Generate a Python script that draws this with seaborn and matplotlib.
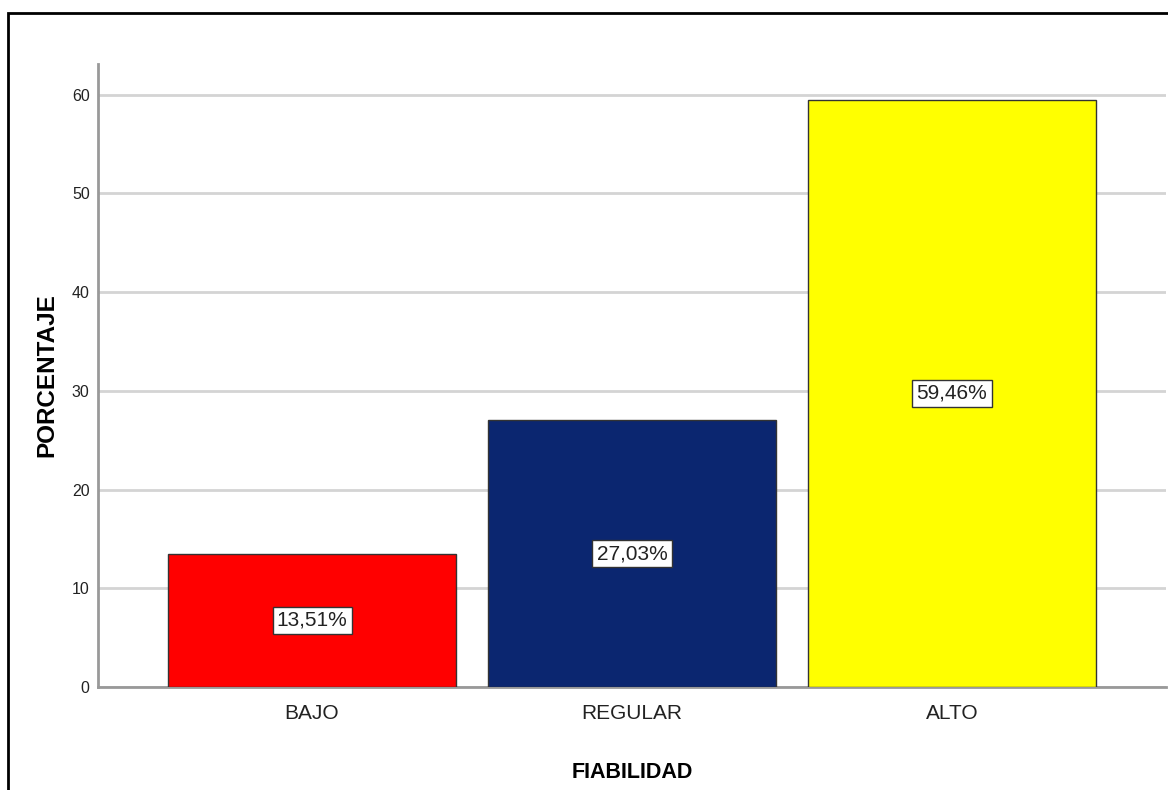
import pandas as pd
import matplotlib
matplotlib.use("Agg")
import matplotlib.pyplot as plt
import seaborn as sns
from matplotlib.patches import Rectangle

categorias = ["BAJO", "REGULAR", "ALTO"]
porcentajes = [13.51, 27.03, 59.46]
etiquetas = ["13,51%", "27,03%", "59,46%"]
colores = ["#FF0000", "#0B2670", "#FFFF00"]

df = pd.DataFrame({"nivel": categorias, "pct": porcentajes})

sns.set_style("white")
plt.rcParams['font.family'] = ['Liberation Sans', 'DejaVu Sans']

fig = plt.figure(figsize=(11.68, 7.9), dpi=100)
ax = fig.add_axes([0.0839, 0.1304, 0.9144, 0.7886])

sns.barplot(data=df, x="nivel", y="pct", hue="nivel", palette=colores,
            saturation=1, width=0.9, edgecolor="#333333", linewidth=1,
            legend=False, ax=ax, zorder=3)

for cont, lab in zip(ax.containers, etiquetas):
    ax.bar_label(cont, labels=[lab], label_type="center", fontsize=15,
                 color="#222222",
                 bbox=dict(boxstyle="square,pad=0.2", fc="white",
                           ec="#333333", lw=1))

ax.set_xlim(-0.669, 2.669)
ax.set_ylim(0, 63.1)
ax.set_yticks([0, 10, 20, 30, 40, 50, 60])
ax.yaxis.grid(True, color="#d4d4d4", linewidth=2, zorder=0)
ax.set_axisbelow(True)

for s in ["top", "right"]:
    ax.spines[s].set_visible(False)
for s in ["left", "bottom"]:
    ax.spines[s].set_color("#999999")
    ax.spines[s].set_linewidth(2)

ax.tick_params(axis="y", length=0, pad=6, labelsize=11.5, labelcolor="#222222")
ax.tick_params(axis="x", length=0, pad=12, labelsize=15, labelcolor="#222222")

ax.set_xlabel("FIABILIDAD", fontsize=15.5, fontweight="bold", labelpad=28,
              color="black")
ax.set_ylabel("PORCENTAJE", fontsize=17.5, fontweight="bold", labelpad=10,
              color="black")

# marco exterior
fig.patches.append(Rectangle((8 / 1168, -0.05), 1.2, (790 - 13) / 790 + 0.05,
                             transform=fig.transFigure, fill=False,
                             ec="black", lw=2))

fig.savefig("out.png", dpi=100)
